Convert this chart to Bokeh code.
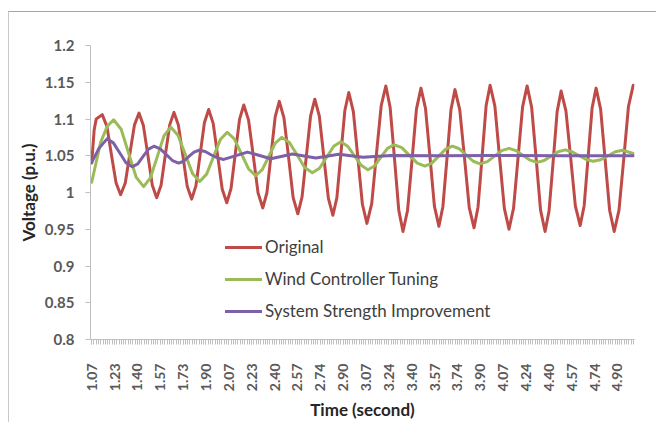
import math
from bokeh.plotting import figure
from bokeh.models import Range1d, FixedTicker, Legend, LegendItem
from bokeh.embed import file_html
from bokeh.resources import INLINE

# ---------------- data ----------------
# time in seconds, voltage in p.u.
t_original = [1.067, 1.085, 1.100, 1.144, 1.178, 1.211, 1.245, 1.278, 1.312, 1.345, 1.379,
              1.412, 1.444, 1.477, 1.509, 1.541, 1.573, 1.604, 1.636, 1.667, 1.699, 1.732,
              1.764, 1.796, 1.827, 1.858, 1.889, 1.920, 1.953, 1.986, 2.019, 2.052, 2.083,
              2.114, 2.145, 2.176, 2.211, 2.246, 2.280, 2.315, 2.345, 2.375, 2.405, 2.435,
              2.469, 2.503, 2.536, 2.570, 2.601, 2.632, 2.663, 2.694, 2.727, 2.760, 2.793,
              2.826, 2.855, 2.884, 2.913, 2.942, 2.975, 3.008, 3.041, 3.074, 3.109, 3.143,
              3.178, 3.212, 3.243, 3.275, 3.306, 3.337, 3.370, 3.403, 3.435, 3.468, 3.501,
              3.534, 3.566, 3.599, 3.628, 3.658, 3.687, 3.716, 3.751, 3.786, 3.820, 3.855,
              3.884, 3.914, 3.943, 3.972, 4.007, 4.041, 4.076, 4.110, 4.143, 4.176, 4.209,
              4.242, 4.275, 4.308, 4.340, 4.373, 4.402, 4.432, 4.461, 4.490, 4.525, 4.560,
              4.594, 4.629, 4.658, 4.687, 4.716, 4.745, 4.778, 4.811, 4.844, 4.877, 4.912,
              4.947, 4.981, 5.016]
v_original = [1.040, 1.085, 1.100, 1.106, 1.090, 1.0515, 1.013, 0.997, 1.013, 1.0525, 1.092,
              1.108, 1.091, 1.0505, 1.010, 0.993, 1.010, 1.051, 1.092, 1.109, 1.092, 1.050,
              1.008, 0.991, 1.009, 1.052, 1.095, 1.113, 1.094, 1.0495, 1.0045, 0.986, 1.0055,
              1.0525, 1.0995, 1.119, 1.0985, 1.049, 0.9995, 0.979, 1.000, 1.0515, 1.103, 1.124,
              1.1015, 1.0475, 0.993, 0.971, 0.994, 1.049, 1.104, 1.127, 1.104, 1.048, 0.992,
              0.969, 0.993, 1.0525, 1.1115, 1.136, 1.110, 1.047, 0.984, 0.958, 0.985, 1.0515,
              1.118, 1.145, 1.116, 1.046, 0.976, 0.947, 0.9755, 1.0445, 1.1135, 1.142, 1.1145,
              1.048, 0.9815, 0.954, 0.981, 1.047, 1.113, 1.140, 1.1125, 1.046, 0.9795, 0.952,
              0.980, 1.049, 1.118, 1.146, 1.1175, 1.048, 0.9785, 0.950, 0.9785, 1.0475, 1.1165,
              1.145, 1.116, 1.046, 0.976, 0.947, 0.975, 1.0425, 1.110, 1.138, 1.111, 1.0465,
              0.9815, 0.955, 0.982, 1.0485, 1.115, 1.142, 1.1135, 1.0445, 0.9755, 0.947, 0.976,
              1.0465, 1.117, 1.146]

t_wind = [1.067, 1.132, 1.180, 1.227, 1.282, 1.336, 1.391, 1.446, 1.495, 1.545, 1.594,
          1.643, 1.696, 1.749, 1.802, 1.855, 1.905, 1.955, 2.005, 2.055, 2.107, 2.159,
          2.211, 2.263, 2.311, 2.358, 2.405, 2.453, 2.509, 2.565, 2.620, 2.676, 2.728,
          2.780, 2.832, 2.884, 2.933, 2.983, 3.032, 3.081, 3.129, 3.176, 3.224, 3.271,
          3.328, 3.384, 3.441, 3.497, 3.547, 3.598, 3.648, 3.698, 3.748, 3.799, 3.849,
          3.899, 3.952, 4.005, 4.057, 4.110, 4.161, 4.213, 4.264, 4.315, 4.366, 4.417,
          4.468, 4.519, 4.570, 4.622, 4.673, 4.724, 4.778, 4.832, 4.885, 4.939, 5.016]
v_wind = [1.014, 1.068, 1.090, 1.099, 1.086, 1.0535, 1.021, 1.008, 1.020, 1.0485, 1.077,
          1.089, 1.078, 1.052, 1.026, 1.015, 1.025, 1.0485, 1.072, 1.082, 1.073, 1.0525,
          1.032, 1.023, 1.031, 1.049, 1.067, 1.075, 1.068, 1.051, 1.034, 1.027, 1.033,
          1.048, 1.063, 1.069, 1.063, 1.050, 1.037, 1.031, 1.036, 1.048, 1.060, 1.065,
          1.061, 1.0505, 1.040, 1.036, 1.040, 1.0495, 1.059, 1.063, 1.0595, 1.051, 1.0425,
          1.039, 1.042, 1.0495, 1.057, 1.060, 1.057, 1.0505, 1.044, 1.041, 1.0435, 1.0495,
          1.0555, 1.058, 1.0555, 1.050, 1.045, 1.0425, 1.0445, 1.050, 1.0555, 1.0575, 1.053]

t_strength = [1.067, 1.120, 1.179, 1.225, 1.271, 1.317, 1.363, 1.403, 1.442, 1.482,
              1.521, 1.566, 1.611, 1.656, 1.701, 1.738, 1.776, 1.813, 1.850, 1.895,
              1.940, 1.985, 2.030, 2.203, 2.373, 2.531, 2.701, 2.869, 3.045, 3.250,
              3.600, 4.000, 4.500, 5.016]
v_strength = [1.041, 1.060, 1.073, 1.0675, 1.054, 1.0405, 1.035, 1.039, 1.049, 1.059,
              1.063, 1.0595, 1.0515, 1.0435, 1.040, 1.0425, 1.049, 1.055, 1.0575, 1.0557,
              1.051, 1.047, 1.045, 1.055, 1.046, 1.0525, 1.047, 1.052, 1.048, 1.0505,
              1.050, 1.0505, 1.050, 1.050]

x_tick_labels = ["1.07", "1.23", "1.40", "1.57", "1.73", "1.90", "2.07", "2.23",
                 "2.40", "2.57", "2.74", "2.90", "3.07", "3.24", "3.40", "3.57",
                 "3.74", "3.90", "4.07", "4.24", "4.40", "4.57", "4.74", "4.90"]
y_ticks = [0.8, 0.85, 0.9, 0.95, 1.0, 1.05, 1.1, 1.15, 1.2]
y_tick_labels = ["0.8", "0.85", "0.9", "0.95", "1", "1.05", "1.1", "1.15", "1.2"]

series_names = ["Original", "Wind Controller Tuning", "System Strength Improvement"]
series_colors = ["#BE4B48", "#9BBB59", "#7D60A6"]

# sampling of the category axis
T0 = 1.0667
STEP = 1.0 / 60.0
N_SAMPLES = 238

FONT = "Lato"

p = figure(width=648, height=411, output_backend="svg", toolbar_location=None,
           x_range=Range1d(T0 - 0.5 * STEP, T0 + (N_SAMPLES - 0.5) * STEP),
           y_range=Range1d(0.8, 1.2),
           min_border_left=81, min_border_right=23, min_border_top=33,
           min_border_bottom=84)
p.margin = (11, 0, 0, 8)
p.styles = {"border-top": "1px solid #A6A6A6", "border-left": "1px solid #C8C8C8"}
p.outline_line_color = None
p.background_fill_color = "white"
p.border_fill_color = "white"
p.xgrid.visible = False
p.ygrid.visible = False

renderers = []
for t, v, c in zip([t_original, t_wind, t_strength],
                   [v_original, v_wind, v_strength], series_colors):
    r = p.line(t, v, line_color=c, line_width=3, line_join="round", line_cap="round")
    renderers.append(r)

# x axis
major_x = [T0 + 10 * k * STEP for k in range(len(x_tick_labels))]
minor_x = [T0 + i * STEP for i in range(N_SAMPLES)]
p.xaxis.ticker = FixedTicker(ticks=major_x, minor_ticks=minor_x)
p.xaxis.major_label_overrides = {m: l for m, l in zip(major_x, x_tick_labels)}
p.xaxis.major_label_orientation = math.pi / 2
p.xaxis.axis_line_color = "#BFBFBF"
p.xaxis.major_tick_line_color = "#BFBFBF"
p.xaxis.minor_tick_line_color = "#BFBFBF"
p.xaxis.major_tick_out = 5
p.xaxis.major_tick_in = 0
p.xaxis.minor_tick_out = 5
p.xaxis.minor_tick_in = 0
p.xaxis.major_label_standoff = 19
p.xaxis.axis_label = "Time (second)"
p.xaxis.axis_label_standoff = 5

# y axis
p.yaxis.ticker = FixedTicker(ticks=y_ticks, minor_ticks=[])
p.yaxis.major_label_overrides = {t: l for t, l in zip(y_ticks, y_tick_labels)}
p.yaxis.axis_line_color = "#BFBFBF"
p.yaxis.major_tick_line_color = "#BFBFBF"
p.yaxis.major_tick_out = 5
p.yaxis.major_tick_in = 0
p.yaxis.major_label_standoff = 11
p.yaxis.axis_label = "Voltage (p.u.)"
p.yaxis.axis_label_standoff = 3

for ax in [p.xaxis, p.yaxis]:
    ax.major_label_text_font = FONT
    ax.major_label_text_font_style = "bold"
    ax.major_label_text_color = "#595959"
    ax.axis_label_text_font = FONT
    ax.axis_label_text_font_size = "17px"
    ax.axis_label_text_font_style = "bold"
    ax.axis_label_text_color = "#262626"
p.xaxis.major_label_text_font_size = "14px"
p.yaxis.major_label_text_font_size = "15px"

legend = Legend(items=[LegendItem(label=n, renderers=[r]) for n, r in zip(series_names, renderers)],
                location=(135, 18))
legend.background_fill_alpha = 0
legend.border_line_alpha = 0
legend.padding = 0
legend.margin = 0
legend.spacing = 11
legend.glyph_height = 20
legend.glyph_width = 37
legend.label_height = 20
legend.label_standoff = 3
legend.label_text_font = FONT
legend.label_text_font_size = "17px"
legend.label_text_color = "#404040"
p.add_layout(legend)

open("out.html", "w").write(file_html(p, INLINE))
